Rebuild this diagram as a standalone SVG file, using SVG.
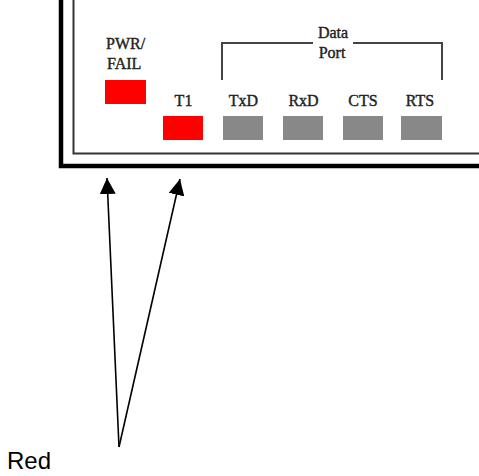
<svg xmlns="http://www.w3.org/2000/svg" width="479" height="476" viewBox="0 0 479 476">
  <style>
    .lbl { font-family: "Liberation Serif", "Times New Roman", serif; font-size: 16px; font-weight: normal; fill: #222; stroke: #222; stroke-width: 0.4; text-anchor: middle; }
    .led-red { fill: #ff0000; }
    .led-grey { fill: #888888; }
    .bracket { fill: none; stroke: #444; stroke-width: 2; }
    .conn { stroke: #000; stroke-width: 1.6; fill: none; marker-end: url(#arrow); }
  </style>
  <defs>
    <marker id="arrow" markerUnits="userSpaceOnUse" markerWidth="16" markerHeight="16" refX="16" refY="8" orient="auto">
      <path d="M0,0 L16,8 L0,16 z" fill="#000"/>
    </marker>
  </defs>
  <rect width="479" height="476" fill="#fff"/>
  <g id="frame">
    <path d="M61,0 V166 H479" fill="none" stroke="#000" stroke-width="4.5"/>
    <path d="M73.5,0 V153.5 H479" fill="none" stroke="#333" stroke-width="2"/>
  </g>
  <g id="pwr-fail">
    <text class="lbl" x="106" y="49" style="text-anchor:start">PWR/</text>
    <text class="lbl" x="107" y="69" style="text-anchor:start">FAIL</text>
    <rect class="led-red" x="105" y="80" width="41" height="24"/>
  </g>
  <g id="t1">
    <text class="lbl" x="183.5" y="106">T1</text>
    <rect class="led-red" x="163" y="116" width="40" height="24"/>
  </g>
  <g id="txd">
    <text class="lbl" x="243.5" y="106">TxD</text>
    <rect class="led-grey" x="223" y="116" width="40" height="24"/>
  </g>
  <g id="rxd">
    <text class="lbl" x="303.5" y="106">RxD</text>
    <rect class="led-grey" x="283" y="116" width="40" height="24"/>
  </g>
  <g id="cts">
    <text class="lbl" x="363" y="106">CTS</text>
    <rect class="led-grey" x="343" y="116" width="40" height="24"/>
  </g>
  <g id="rts">
    <text class="lbl" x="420" y="106">RTS</text>
    <rect class="led-grey" x="401" y="116" width="41" height="24"/>
  </g>
  <g id="data-port">
    <path class="bracket" d="M222,80 V43 H313 M353,43 H442 V80"/>
    <text class="lbl" x="333" y="38">Data</text>
    <text class="lbl" x="332" y="58">Port</text>
  </g>
  <g id="red-label">
    <text x="7" y="469" font-family="'Liberation Sans', Arial, sans-serif" font-size="24" fill="#000">Red</text>
  </g>
  <g id="connectors">
    <line class="conn" x1="119" y1="447" x2="107" y2="178"/>
    <line class="conn" x1="119" y1="447" x2="180" y2="179"/>
  </g>
</svg>
